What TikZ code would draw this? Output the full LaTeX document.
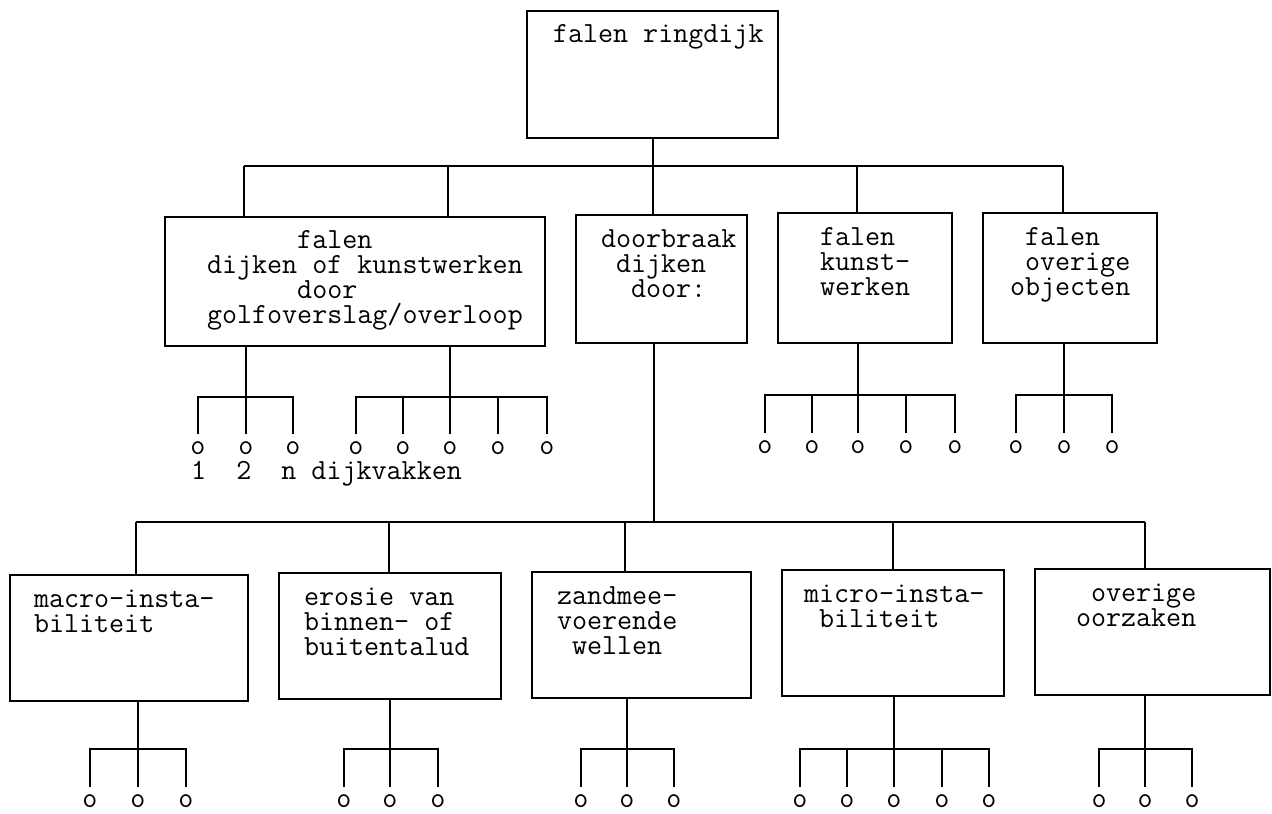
\documentclass[tikz,border=0pt]{standalone}
\usetikzlibrary{positioning}

\newcommand\typew{\fontsize{14.6}{12.6}\selectfont\ttfamily}
\newcommand\chind[1]{\hspace*{#1\fontcharwd\font`o}}
\newcommand\topstrut{\rule{0pt}{10pt}}

\begin{document}
\begin{tikzpicture}[x=0.5pt, y=-0.5pt, line width=0.8pt,
    box/.style args={#1/#2}{draw, rectangle, inner sep=0pt,
      minimum width=#1, minimum height=#2},
    txt/.style={font=\typew, align=left, inner sep=0pt},
    leaf/.style={font=\typew, inner sep=0pt},
    leafline/.style={shorten >=3.5pt}]
\useasboundingbox (0,0) rectangle (1272,813);

% boxes
\node[box=125.5pt/63.5pt] (top)  at (652.5,74.5) {};
\node[box=190pt/64.5pt]   (dijk) at (355,281.5)  {};
\node[box=85.5pt/64pt]    (brk)  at (661.5,279)  {};
\node[box=87pt/65pt]      (kw)   at (865,278)    {};
\node[box=87pt/65pt]      (obj)  at (1070,278)   {};
\node[box=119pt/63pt]     (mac)  at (129,638)    {};
\node[box=111pt/63pt]     (ero)  at (390,636)    {};
\node[box=109.5pt/63pt]   (zand) at (641.5,635)  {};
\node[box=111pt/63pt]     (mic)  at (893,633)    {};
\node[box=117.5pt/63pt]   (ovo)  at (1152.5,632) {};

% texts
\node[txt, below right=6pt and 13pt of top.north west] (ttop)
  {\topstrut falen ringdijk};
\node[txt, below right=5.5pt and 21pt of dijk.north west] (tdijk)
  {\topstrut\chind{6}falen\\ dijken of kunstwerken\\ \chind{6}door\\ golfoverslag/overloop};
\node[txt, below right=6pt and 12.5pt of brk.north west] (tbrk)
  {\topstrut doorbraak\\ \chind{1}dijken\\ \chind{2}door:};
\node[txt, below right=6pt and 21pt of kw.north west] (tkw)
  {\topstrut falen\\ kunst-\\ werken};
\node[txt, below right=6pt and 13.5pt of obj.north west] (tobj)
  {\topstrut\chind{1}falen\\ \chind{1}overige\\ objecten};
\node[txt, below right=6pt and 12pt of mac.north west] (tmac)
  {\topstrut macro-insta-\\ biliteit};
\node[txt, below right=6pt and 12.5pt of ero.north west] (tero)
  {\topstrut erosie van\\ binnen- of\\ buitentalud};
\node[txt, below right=6pt and 12.5pt of zand.north west] (tzand)
  {\topstrut zandmee-\\ voerende\\ \chind{1}wellen};
\node[txt, below right=6pt and 11pt of mic.north west] (tmic)
  {\topstrut micro-insta-\\ \chind{1}biliteit};
\node[txt, below right=6pt and 20.5pt of ovo.north west] (tovo)
  {\topstrut\chind{1}overige\\ oorzaken};

% first level
\coordinate (j1a) at (244,166);
\coordinate (j1b) at (448,166);
\coordinate (j1c) at (653,166);
\coordinate (j1d) at (857,166);
\coordinate (j1e) at (1063,166);
\draw (j1c |- top.south) -- (j1c);
\draw (j1a) -- (j1e);
\foreach \j/\n in {j1a/dijk, j1b/dijk, j1c/brk, j1d/kw, j1e/obj}
  \draw (\j) -- (\j |- \n.north);

% second level
\coordinate (j2) at (654,522);
\coordinate (j2a) at (136,522);
\coordinate (j2b) at (389,522);
\coordinate (j2c) at (625,522);
\coordinate (j2d) at (893,522);
\coordinate (j2e) at (1145,522);
\draw (j2 |- brk.south) -- (j2);
\draw (j2a) -- (j2e);
\foreach \j/\n in {j2a/mac, j2b/ero, j2c/zand, j2d/mic, j2e/ovo}
  \draw (\j) -- (\j |- \n.north);

% leaves
\foreach \g/\p/\dx/\by/\cy/\xs in {
    gA/dijk/246/397/448/{198,246,293},
    gB/dijk/450/397/448/{356,403,450,498,547},
    gK/kw/858/395/447/{765,812,858,906,955},
    gO/obj/1064/395/447/{1016,1064,1112},
    gM/mac/138/749/801/{90,138,186},
    gE/ero/390/749/801/{344,390,438},
    gZ/zand/627/749/801/{581,627,674},
    gI/mic/894/749/801/{800,847,894,942,989},
    gV/ovo/1145/749/801/{1099,1145,1192}} {
  \coordinate (\g) at (\dx,\by);
  \draw (\g |- \p.south) -- (\g);
  \foreach \x [count=\i] in \xs {
    \node[leaf] (\g-\i) at (\x,\cy) {o};
    \draw[leafline] (\g) -| (\g-\i);
  }
}

\node[txt, anchor=base west] (vak) at (190.4,479) {1~~2~~n dijkvakken};
\end{tikzpicture}
\end{document}
